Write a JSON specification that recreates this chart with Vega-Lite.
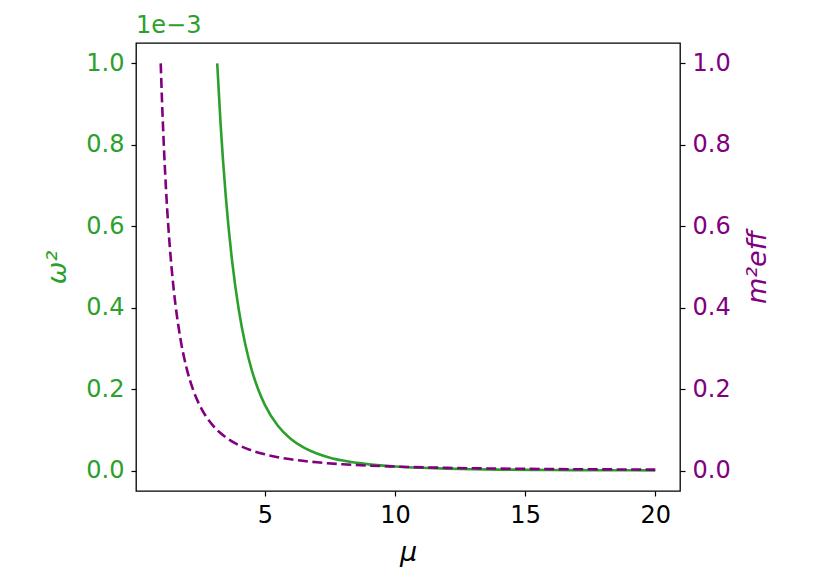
{
  "$schema": "https://vega.github.io/schema/vega-lite/v6.json",
  "width": 544,
  "height": 448,
  "autosize": {"type": "none"},
  "padding": {"left": 136, "top": 43, "right": 150, "bottom": 96},
  "background": "white",
  "config": {
    "view": {"stroke": "black", "strokeWidth": 1.3},
    "axis": {
      "labelFont": "DejaVu Sans",
      "labelFontSize": 24,
      "titleFont": "DejaVu Sans",
      "titleFontStyle": "italic",
      "titleFontWeight": "normal",
      "titleFontSize": 27,
      "domain": false,
      "grid": false,
      "tickColor": "black",
      "tickSize": 5,
      "tickWidth": 1.2,
      "labelPadding": 7
    }
  },
  "title": {
    "text": "1e\u22123",
    "anchor": "start",
    "frame": "group",
    "font": "DejaVu Sans",
    "fontSize": 24,
    "fontWeight": "normal",
    "color": "#2ca02c",
    "offset": 5
  },
  "datasets": {
    "omega": [
      {"mu": 3.17, "w2": 1.0},
      {"mu": 3.3, "w2": 0.8515},
      {"mu": 3.5, "w2": 0.6729},
      {"mu": 3.75, "w2": 0.5106},
      {"mu": 4.0, "w2": 0.3945},
      {"mu": 4.25, "w2": 0.3095},
      {"mu": 4.5, "w2": 0.2463},
      {"mu": 4.75, "w2": 0.1984},
      {"mu": 5.0, "w2": 0.1616},
      {"mu": 5.5, "w2": 0.1104},
      {"mu": 6.0, "w2": 0.0779},
      {"mu": 6.5, "w2": 0.0566},
      {"mu": 7.0, "w2": 0.0421},
      {"mu": 7.5, "w2": 0.0319},
      {"mu": 8.0, "w2": 0.0247},
      {"mu": 9.0, "w2": 0.0154},
      {"mu": 10.0, "w2": 0.0101},
      {"mu": 11.0, "w2": 0.0069},
      {"mu": 12.0, "w2": 0.0049},
      {"mu": 13.0, "w2": 0.0035},
      {"mu": 14.0, "w2": 0.0026},
      {"mu": 16.0, "w2": 0.0015},
      {"mu": 18.0, "w2": 0.00096},
      {"mu": 20.0, "w2": 0.00063}
    ],
    "meff": [
      {"mu": 1.0, "m2": 1.0},
      {"mu": 1.05, "m2": 0.907},
      {"mu": 1.1, "m2": 0.8264},
      {"mu": 1.15, "m2": 0.756},
      {"mu": 1.2, "m2": 0.6944},
      {"mu": 1.3, "m2": 0.5917},
      {"mu": 1.4, "m2": 0.5102},
      {"mu": 1.5, "m2": 0.4444},
      {"mu": 1.75, "m2": 0.3265},
      {"mu": 2.0, "m2": 0.25},
      {"mu": 2.25, "m2": 0.1975},
      {"mu": 2.5, "m2": 0.16},
      {"mu": 2.75, "m2": 0.1322},
      {"mu": 3.0, "m2": 0.1111},
      {"mu": 3.25, "m2": 0.0947},
      {"mu": 3.5, "m2": 0.0816},
      {"mu": 4.0, "m2": 0.0625},
      {"mu": 4.5, "m2": 0.0494},
      {"mu": 5.0, "m2": 0.04},
      {"mu": 6.0, "m2": 0.0278},
      {"mu": 7.0, "m2": 0.0204},
      {"mu": 8.0, "m2": 0.0156},
      {"mu": 9.0, "m2": 0.0123},
      {"mu": 10.0, "m2": 0.01},
      {"mu": 12.0, "m2": 0.0069},
      {"mu": 15.0, "m2": 0.0044},
      {"mu": 18.0, "m2": 0.0031},
      {"mu": 20.0, "m2": 0.0025}
    ]
  },
  "layer": [
    {
      "data": {"name": "omega"},
      "mark": {"type": "line", "color": "#2ca02c", "strokeWidth": 2.6, "interpolate": "monotone", "clip": true},
      "encoding": {
        "x": {
          "field": "mu", "type": "quantitative",
          "scale": {"domain": [0.05, 20.95], "nice": false, "zero": false},
          "axis": {"values": [5, 10, 15, 20], "title": "\u03bc", "labelColor": "black", "titlePadding": 12}
        },
        "y": {
          "field": "w2", "type": "quantitative",
          "scale": {"domain": [-0.05, 1.05], "nice": false, "zero": false},
          "axis": {
            "orient": "left",
            "values": [0, 0.2, 0.4, 0.6, 0.8, 1.0],
            "format": ".1f",
            "labelColor": "#2ca02c",
            "title": "\u03c9\u00b2",
            "titleColor": "#2ca02c",
            "titlePadding": 14
          }
        }
      }
    },
    {
      "data": {"name": "meff"},
      "mark": {"type": "line", "color": "#800080", "strokeWidth": 2.6, "strokeDash": [10, 4.5], "interpolate": "monotone", "clip": true},
      "encoding": {
        "x": {"field": "mu", "type": "quantitative"},
        "y": {
          "field": "m2", "type": "quantitative",
          "scale": {"domain": [-0.05, 1.05], "nice": false, "zero": false},
          "axis": {
            "orient": "right",
            "values": [0, 0.2, 0.4, 0.6, 0.8, 1.0],
            "format": ".1f",
            "labelColor": "#800080",
            "title": "m\u00b2eff",
            "titleColor": "#800080",
            "titleAngle": 270,
            "titleBaseline": "top",
            "titlePadding": 14
          }
        }
      }
    }
  ],
  "resolve": {"scale": {"y": "independent"}}
}
